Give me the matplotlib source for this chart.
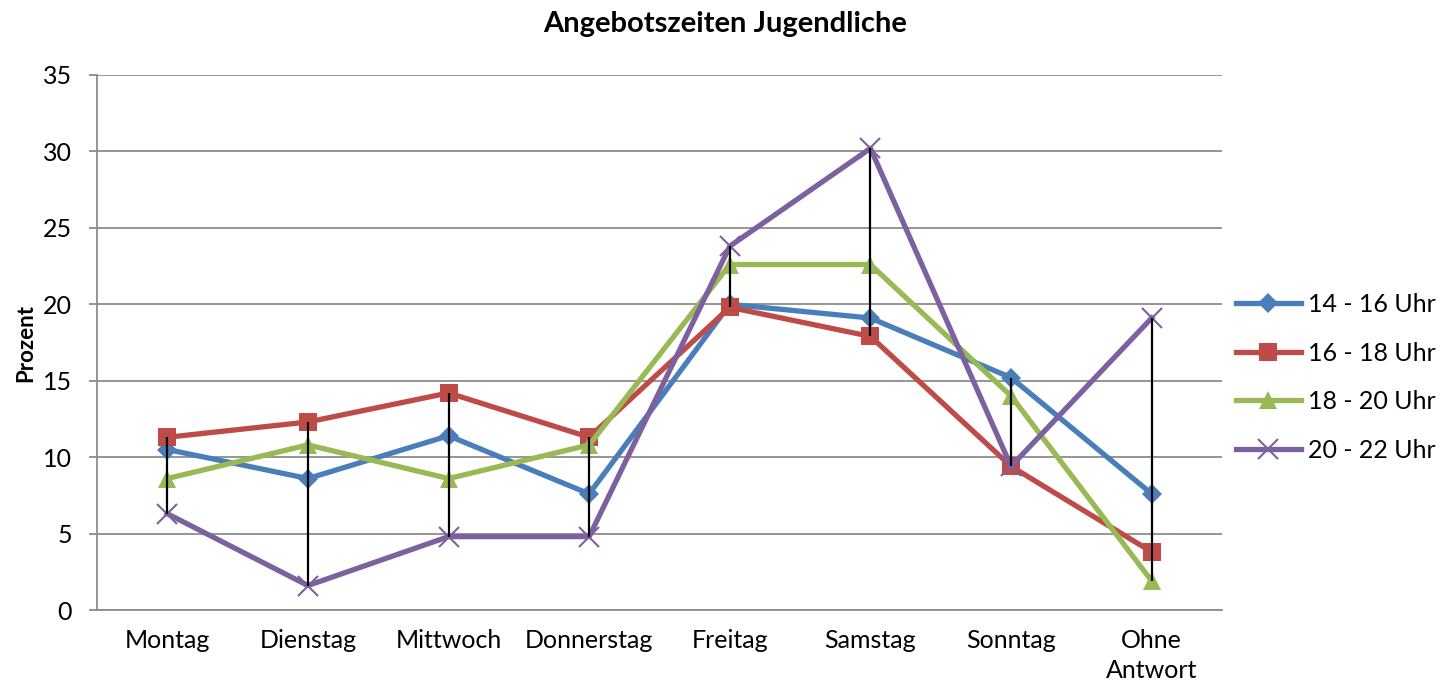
import matplotlib
matplotlib.use("Agg")
import matplotlib.pyplot as plt
import numpy as np

plt.rcParams['font.family'] = ['Lato', 'DejaVu Sans']

categories = ["Montag", "Dienstag", "Mittwoch", "Donnerstag", "Freitag",
              "Samstag", "Sonntag", "Ohne\nAntwort"]
s14_16 = [10.5, 8.6, 11.4, 7.6, 20.0, 19.1, 15.2, 7.6]
s16_18 = [11.3, 12.3, 14.2, 11.3, 19.8, 17.9, 9.4, 3.8]
s18_20 = [8.6, 10.8, 8.6, 10.8, 22.6, 22.6, 14.0, 1.9]
s20_22 = [6.3, 1.6, 4.8, 4.8, 23.8, 30.2, 9.4, 19.1]
series_labels = ["14 - 16 Uhr", "16 - 18 Uhr", "18 - 20 Uhr", "20 - 22 Uhr"]
yticks = [0, 5, 10, 15, 20, 25, 30, 35]

fig = plt.figure(figsize=(14.53, 6.89), dpi=100)
ax = fig.add_axes([97/1453, 1-610/689, (1222-97)/1453, (610-75)/689])

x = np.arange(len(categories))
data = [s14_16, s16_18, s18_20, s20_22]
colors = ["#4A7EBB", "#BE4B48", "#98B954", "#7D60A0"]
markers = ["D", "s", "^", "x"]
msizes = [10, 13, 13, 14]

# high-low lines
arr = np.array(data)
ax.vlines(x, arr.min(axis=0), arr.max(axis=0), color="black", lw=1.6, zorder=5)

for vals, c, m, ms, lab in zip(data, colors, markers, msizes, series_labels):
    kw = dict(markeredgecolor=c, markerfacecolor=c)
    if m == "x":
        kw['markeredgewidth'] = 1.5
    else:
        kw['markeredgewidth'] = 0
    ax.plot(x, vals, color=c, lw=3.8, marker=m, markersize=ms, label=lab,
            zorder=3, solid_joinstyle='round', **kw)

ax.set_xlim(-0.5, len(categories) - 0.5)
ax.set_ylim(0, 35)
ax.set_yticks(yticks)
ax.set_xticks(x)
ax.set_xticklabels(categories, linespacing=1.35)
ax.yaxis.grid(True, color="#8c8c8c", lw=1.3)
ax.set_axisbelow(True)
for sp in ["top", "right"]:
    ax.spines[sp].set_visible(False)
for sp in ["left", "bottom"]:
    ax.spines[sp].set_color("#8c8c8c")
    ax.spines[sp].set_linewidth(1.3)
ax.tick_params(axis="y", length=6, width=1.3, color="#8c8c8c", labelsize=18, pad=12)
ax.tick_params(axis="x", length=0, labelsize=18, pad=14)

ax.set_ylabel("Prozent", fontsize=16, fontweight="bold", labelpad=5)
fig.text(0.5 - 0.001, 1 - 24/689, "Angebotszeiten Jugendliche", ha="center", va="center",
         fontsize=21, fontweight="bold")

leg = ax.legend(loc="center left", bbox_to_anchor=(1.0, 0.435), frameon=False,
                fontsize=18, handlelength=2.6, labelspacing=1.02, handletextpad=0.3,
                borderaxespad=0.15)

fig.savefig("out.png", dpi=100)
